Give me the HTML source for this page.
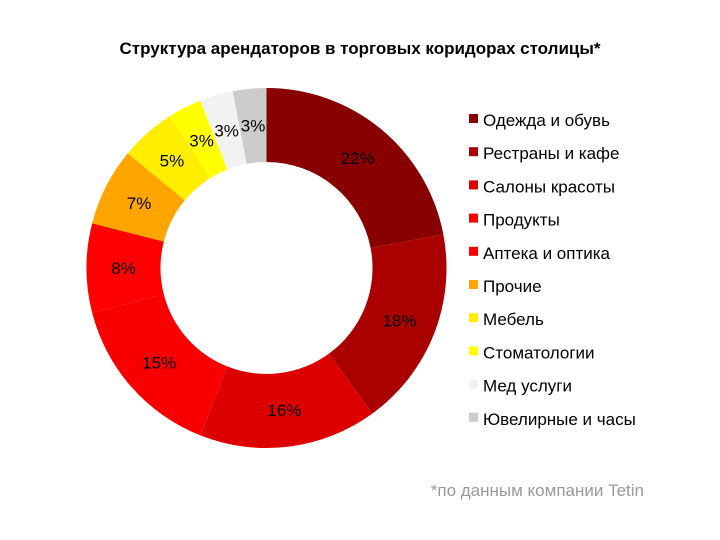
<!DOCTYPE html>
<html><head><meta charset="utf-8"><style>
body{margin:0;background:#fff;width:720px;height:535px;overflow:hidden;font-family:"Liberation Sans","DejaVu Sans",sans-serif}
</style></head><body>
<svg id="chart" width="720" height="535" xmlns="http://www.w3.org/2000/svg">
<text x="360" y="54" text-anchor="middle" font-size="17" font-weight="bold" fill="#000">Структура арендаторов в торговых коридорах столицы*</text>
<g id="slices"></g><g id="labels"></g><g id="legend"></g>
<text x="644" y="496" text-anchor="end" font-size="17" fill="#999">*по данным компании Tetin</text>
</svg>
<script>
const categories=["Одежда и обувь","Рестраны и кафе","Салоны красоты","Продукты","Аптека и оптика","Прочие","Мебель","Стоматологии","Мед услуги","Ювелирные и часы"];
const values=[22,18,16,15,8,7,5,3,3,3];
const valueLabels=["22%","18%","16%","15%","8%","7%","5%","3%","3%","3%"];
const colors=["#880000","#aa0000","#dd0000","#f80000","#ff0000","#ffa500","#ffee00","#ffff00","#f2f2f2","#cccccc"];
const NS="http://www.w3.org/2000/svg";
const cx=266.5,cy=268,R=180,r=106;
const total=values.reduce((a,b)=>a+b,0);
function pt(rad,a){return [cx+rad*Math.sin(a),cy-rad*Math.cos(a)];}
let acc=0;
const gs=document.getElementById('slices'),gl=document.getElementById('labels'),gg=document.getElementById('legend');
values.forEach((v,i)=>{
 const a0=acc/total*2*Math.PI; acc+=v; const a1=acc/total*2*Math.PI;
 const lg=(a1-a0)>Math.PI?1:0;
 const [x0,y0]=pt(R,a0),[x1,y1]=pt(R,a1),[x2,y2]=pt(r,a1),[x3,y3]=pt(r,a0);
 const p=document.createElementNS(NS,'path');
 p.setAttribute('d',`M${x0},${y0}A${R},${R} 0 ${lg} 1 ${x1},${y1}L${x2},${y2}A${r},${r} 0 ${lg} 0 ${x3},${y3}Z`);
 p.setAttribute('fill',colors[i]);
 
 
 gs.appendChild(p);
 const am=(a0+a1)/2,[lx,ly]=pt(143,am);
 const t=document.createElementNS(NS,'text');
 t.setAttribute('x',lx);t.setAttribute('y',ly+6);t.setAttribute('text-anchor','middle');
 t.setAttribute('font-size','17');t.setAttribute('fill','#000');
 t.textContent=valueLabels[i];
 
 
 gl.appendChild(t);
 const y=120+i*33.2;
 const s=document.createElementNS(NS,'rect');
 s.setAttribute('x',469);s.setAttribute('y',y-6);s.setAttribute('width',9);s.setAttribute('height',9);s.setAttribute('fill',colors[i]);
 
 
 gg.appendChild(s);
 const lt=document.createElementNS(NS,'text');
 lt.setAttribute('x',483);lt.setAttribute('y',y+6);lt.setAttribute('font-size','17');lt.setAttribute('fill','#000');
 lt.textContent=categories[i];
 
 
 gg.appendChild(lt);
});
</script>
</body></html>
